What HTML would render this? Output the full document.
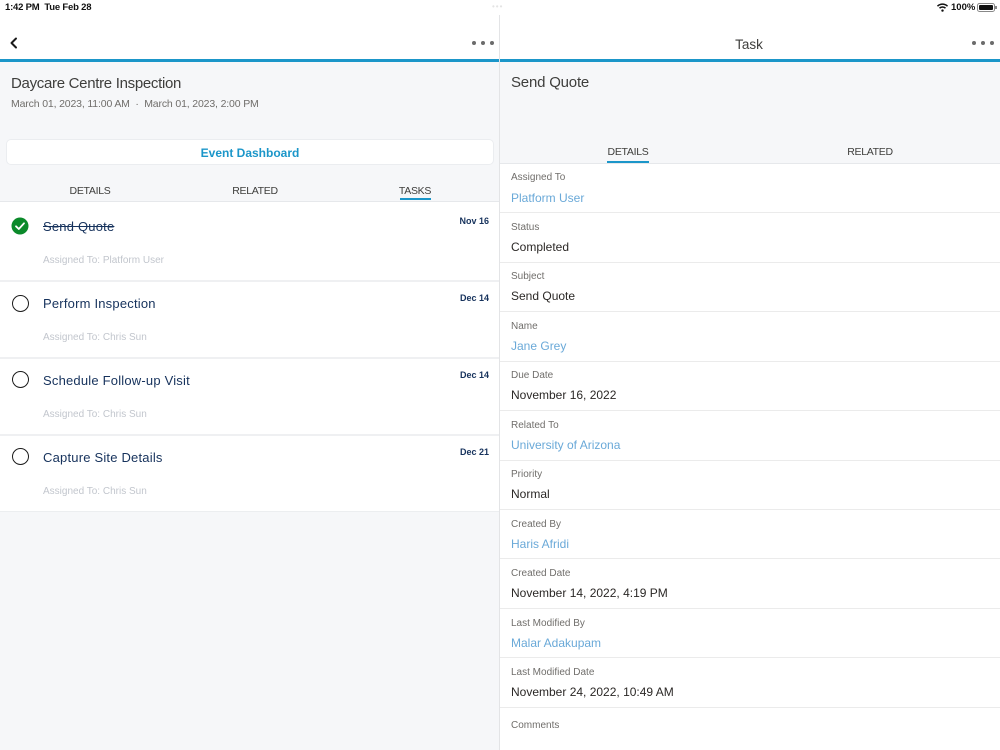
<!DOCTYPE html>
<html><head><meta charset="utf-8">
<style>
*{margin:0;padding:0;box-sizing:border-box}
html,body{width:1000px;height:750px;overflow:hidden;background:#fff;font-family:"Liberation Sans",sans-serif}
.a{position:absolute}
.t{position:absolute;white-space:nowrap;line-height:1}
.c{text-align:center}
.lbl{font-size:10px;color:#706e6b;left:511px}
.val{font-size:12px;color:#2b2826;left:511px}
.lnk{color:#6aa9d8}
.sep{position:absolute;left:500px;width:500px;height:1px;background:#ebebeb}
.ttl{font-size:13px;color:#16325c;left:43px;letter-spacing:0.2px}
.asg{font-size:10px;color:#c2c6cd;left:43px}
.dt{font-size:9px;font-weight:bold;color:#16325c;right:511px}
.circ{position:absolute;left:12px;width:17px;height:17px;border-radius:50%;border:1.6px solid #1c1c1c}
</style></head><body>
<!-- status bar -->
<div class="t" style="left:5px;top:2.5px;font-size:9.5px;font-weight:bold;color:#111;letter-spacing:-0.2px">1:42 PM&nbsp;&nbsp;Tue Feb 28</div>
<div class="t" style="left:492px;top:3px;font-size:8px;color:#e4e4e4;letter-spacing:1px">•••</div>
<svg class="a" style="left:937px;top:3px" width="11" height="9" viewBox="0 0 11 9"><path d="M0.5 3.2 A7 7 0 0 1 10.5 3.2" stroke="#111" stroke-width="1.5" fill="none"/><path d="M2.5 5.2 A4.2 4.2 0 0 1 8.5 5.2" stroke="#111" stroke-width="1.5" fill="none"/><circle cx="5.5" cy="7.6" r="1.2" fill="#111"/></svg>
<div class="t" style="left:951px;top:2.5px;font-size:9.5px;font-weight:bold;color:#111">100%</div>
<div class="a" style="left:977px;top:3px;width:18px;height:9px;border:1px solid #888;border-radius:2.5px;padding:1px"><div style="width:100%;height:100%;background:#111;border-radius:1px"></div></div>
<div class="a" style="left:995px;top:6px;width:1.5px;height:3px;background:#888"></div>

<!-- nav bars -->
<svg class="a" style="left:9px;top:37px" width="10" height="12" viewBox="0 0 10 12"><path d="M7 1.5 L2.5 6 L7 10.5" stroke="#1a1a1a" stroke-width="2" fill="none" stroke-linecap="round" stroke-linejoin="round"/></svg>
<div class="a" style="left:472px;top:41px;width:4px;height:4px;border-radius:50%;background:#6b6b6b"></div>
<div class="a" style="left:481px;top:41px;width:4px;height:4px;border-radius:50%;background:#6b6b6b"></div>
<div class="a" style="left:490px;top:41px;width:4px;height:4px;border-radius:50%;background:#6b6b6b"></div>
<div class="t c" style="left:700px;width:98px;top:38px;font-size:13.5px;color:#3e3e3c">Task</div>
<div class="a" style="left:972px;top:41px;width:4px;height:4px;border-radius:50%;background:#6b6b6b"></div>
<div class="a" style="left:981px;top:41px;width:4px;height:4px;border-radius:50%;background:#6b6b6b"></div>
<div class="a" style="left:990px;top:41px;width:4px;height:4px;border-radius:50%;background:#6b6b6b"></div>

<div class="a" style="left:0;top:59px;width:1000px;height:3px;background:#1b96c9"></div>

<!-- left pane -->
<div class="a" style="left:0;top:62px;width:499px;height:139px;background:#f6f7f9"></div>
<div class="t" style="left:11px;top:76px;font-size:15px;color:#3e3e3c;letter-spacing:-0.3px">Daycare Centre Inspection</div>
<div class="t" style="left:11px;top:98.5px;font-size:10.5px;color:#706e6b;letter-spacing:-0.15px">March 01, 2023, 11:00 AM&nbsp;&nbsp;·&nbsp;&nbsp;March 01, 2023, 2:00 PM</div>
<div class="a" style="left:6px;top:139px;width:488px;height:26px;background:#fff;border:1px solid #ebedf0;border-radius:5px"></div>
<div class="t c" style="left:6px;width:488px;top:146.5px;font-size:12px;font-weight:bold;color:#1b96c9">Event Dashboard</div>
<div class="t c" style="left:40px;width:100px;top:186px;font-size:10.5px;color:#3e3e3c;letter-spacing:-0.3px">DETAILS</div>
<div class="t c" style="left:205px;width:100px;top:186px;font-size:10.5px;color:#3e3e3c;letter-spacing:-0.3px">RELATED</div>
<div class="t c" style="left:365px;width:100px;top:186px;font-size:10.5px;color:#3e3e3c;letter-spacing:-0.3px">TASKS</div>
<div class="a" style="left:400px;top:198px;width:31px;height:2px;background:#1b96c9"></div>
<div class="a" style="left:0;top:201px;width:499px;height:1px;background:#e6e8eb"></div>

<!-- task list -->
<div class="a" style="left:0;top:202px;width:499px;height:309px;background:#fff"></div>
<div class="a" style="left:0;top:280px;width:499px;height:1.5px;background:#eff0f2"></div>
<div class="a" style="left:0;top:357px;width:499px;height:1.5px;background:#eff0f2"></div>
<div class="a" style="left:0;top:434px;width:499px;height:1.5px;background:#eff0f2"></div>
<div class="a" style="left:0;top:511px;width:499px;height:239px;background:#f6f7f9;border-top:1px solid #eceef0"></div>

<svg class="a" style="left:11px;top:217px" width="18" height="18" viewBox="0 0 18 18"><circle cx="9" cy="9" r="8.5" fill="#0b8a2a"/><path d="M5 9.3 L7.8 12 L13 6.3" stroke="#fff" stroke-width="1.8" fill="none" stroke-linecap="round" stroke-linejoin="round"/></svg>
<div class="t ttl" style="top:220.2px;text-decoration:line-through">Send Quote</div>
<div class="t dt" style="top:217.2px">Nov 16</div>
<div class="t asg" style="top:256.3px">Assigned To: Platform User</div>

<div class="circ" style="top:294.5px"></div>
<div class="t ttl" style="top:297.2px">Perform Inspection</div>
<div class="t dt" style="top:294.2px">Dec 14</div>
<div class="t asg" style="top:333.3px">Assigned To: Chris Sun</div>

<div class="circ" style="top:371.3px"></div>
<div class="t ttl" style="top:374px">Schedule Follow-up Visit</div>
<div class="t dt" style="top:371px">Dec 14</div>
<div class="t asg" style="top:410.1px">Assigned To: Chris Sun</div>

<div class="circ" style="top:448.2px"></div>
<div class="t ttl" style="top:450.9px">Capture Site Details</div>
<div class="t dt" style="top:447.9px">Dec 21</div>
<div class="t asg" style="top:487px">Assigned To: Chris Sun</div>

<!-- divider -->
<div class="a" style="left:499px;top:15px;width:1px;height:735px;background:#e3e4e6"></div>

<!-- right pane -->
<div class="a" style="left:500px;top:62px;width:500px;height:101px;background:#f6f7f9"></div>
<div class="t" style="left:511px;top:75.2px;font-size:15px;color:#3e3e3c;letter-spacing:-0.2px">Send Quote</div>
<div class="t c" style="left:578px;width:100px;top:147.3px;font-size:10.5px;color:#3e3e3c;letter-spacing:-0.3px">DETAILS</div>
<div class="t c" style="left:820px;width:100px;top:147.3px;font-size:10.5px;color:#3e3e3c;letter-spacing:-0.3px">RELATED</div>
<div class="a" style="left:607px;top:161px;width:42px;height:2px;background:#1b96c9"></div>
<div class="sep" style="top:163px;background:#e6e8eb"></div>

<div class="t lbl" style="top:173.3px">Assigned To</div>
<div class="t val lnk" style="top:191.5px">Platform User</div>
<div class="sep" style="top:212px"></div>

<div class="t lbl" style="top:222.8px">Status</div>
<div class="t val" style="top:241px">Completed</div>
<div class="sep" style="top:261.5px"></div>

<div class="t lbl" style="top:272.3px">Subject</div>
<div class="t val" style="top:290.4px">Send Quote</div>
<div class="sep" style="top:311px"></div>

<div class="t lbl" style="top:321.8px">Name</div>
<div class="t val lnk" style="top:339.9px">Jane Grey</div>
<div class="sep" style="top:360.5px"></div>

<div class="t lbl" style="top:371.2px">Due Date</div>
<div class="t val" style="top:389.3px">November 16, 2022</div>
<div class="sep" style="top:410px"></div>

<div class="t lbl" style="top:420.6px">Related To</div>
<div class="t val lnk" style="top:438.7px">University of Arizona</div>
<div class="sep" style="top:459.5px"></div>

<div class="t lbl" style="top:470.1px">Priority</div>
<div class="t val" style="top:488.2px">Normal</div>
<div class="sep" style="top:508.8px"></div>

<div class="t lbl" style="top:519.5px">Created By</div>
<div class="t val lnk" style="top:537.6px">Haris Afridi</div>
<div class="sep" style="top:558.2px"></div>

<div class="t lbl" style="top:569px">Created Date</div>
<div class="t val" style="top:587.1px">November 14, 2022, 4:19 PM</div>
<div class="sep" style="top:607.5px"></div>

<div class="t lbl" style="top:618.6px">Last Modified By</div>
<div class="t val lnk" style="top:636.7px">Malar Adakupam</div>
<div class="sep" style="top:657px"></div>

<div class="t lbl" style="top:667.6px">Last Modified Date</div>
<div class="t val" style="top:685.7px">November 24, 2022, 10:49 AM</div>
<div class="sep" style="top:706.5px"></div>

<div class="t lbl" style="top:721.3px">Comments</div>
</body></html>
